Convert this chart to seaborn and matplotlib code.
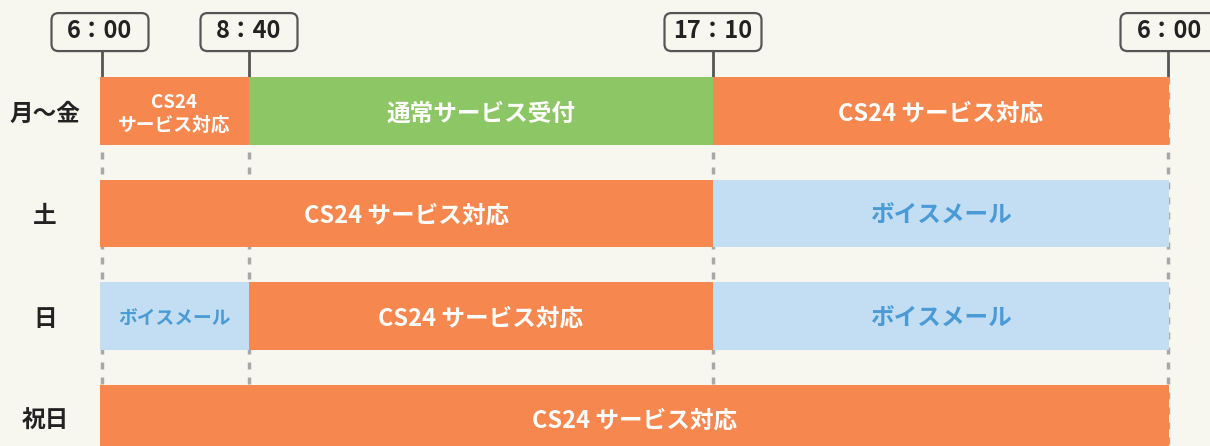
import numpy as np
import pandas as pd
import seaborn as sns
import matplotlib.pyplot as plt
from matplotlib.patches import FancyBboxPatch
from matplotlib.transforms import ScaledTranslation

# boundaries (hours from midnight, next-day 6:00 = 30)
tick_hours = [6.0, 8 + 40 / 60, 17 + 10 / 60, 30.0]
tick_labels = ["6：00", "8：40", "17：10", "6：00"]
# schematic (non-linear) placement of each boundary along the timeline
tick_pos = [0, 149, 613, 1069]

days = ["月〜金", "土", "日", "祝日"]

seg_day = ["月〜金", "月〜金", "月〜金", "土", "土", "日", "日", "日", "祝日"]
seg_start = [6.0, 8 + 40 / 60, 17 + 10 / 60, 6.0, 17 + 10 / 60,
             6.0, 8 + 40 / 60, 17 + 10 / 60, 6.0]
seg_end = [8 + 40 / 60, 17 + 10 / 60, 30.0, 17 + 10 / 60, 30.0,
           8 + 40 / 60, 17 + 10 / 60, 30.0, 30.0]
seg_kind = ["cs24", "normal", "cs24", "cs24", "voice",
            "voice", "cs24", "voice", "cs24"]
seg_label = ["CS24\nサービス対応", "通常サービス受付", "CS24 サービス対応",
             "CS24 サービス対応", "ボイスメール",
             "ボイスメール", "CS24 サービス対応", "ボイスメール",
             "CS24 サービス対応"]

BG = "#f8f7ef"
fill = {"cs24": "#f5874f", "normal": "#8cc665", "voice": "#c3def2"}
txt = {"cs24": "white", "normal": "white", "voice": "#4a9ad6"}


def forward(x):
    return np.interp(x, tick_hours, tick_pos)


def inverse(x):
    return np.interp(x, tick_pos, tick_hours)


def main():
    df = pd.DataFrame({"day": seg_day, "start": seg_start, "end": seg_end,
                       "kind": seg_kind, "label": seg_label})
    df["row"] = df["day"].map({d: i for i, d in enumerate(days)})

    sns.set_theme(style="white")
    plt.rcParams["font.family"] = ["Noto Sans CJK JP", "DejaVu Sans"]

    fig = plt.figure(figsize=(12.1, 4.46), dpi=100, facecolor=BG)
    ax = fig.add_axes([100 / 1210, 0, 1069 / 1210, 1])
    ax.set_facecolor(BG)
    ax.set_xscale("function", functions=(forward, inverse))
    ax.set_xlim(tick_hours[0], tick_hours[-1])

    pitch = 102.5  # px per row
    ax.set_ylim((446 - 111) / pitch, -111 / pitch)
    bar_h = 68 / pitch

    # guides (drawn behind the bars)
    box_bottom = -0.585
    guide_x = [h + 0.04 if i == 0 else (h - 0.02 if i == 3 else h)
               for i, h in enumerate(tick_hours)]
    ax.vlines(guide_x, -bar_h / 2, 3.5, color="#a8a8a8", lw=2.5,
              linestyle=(0, (7 / 2.5 * 0.72, 8 / 2.5 * 0.72)), zorder=1,
              clip_on=False)
    ax.vlines(guide_x, box_bottom, -bar_h / 2, color="#555555", lw=2,
              zorder=1, clip_on=False)

    ax.barh(df["row"], df["end"] - df["start"], left=df["start"],
            height=bar_h, color=[fill[k] for k in df["kind"]],
            linewidth=0, zorder=2)

    for _, r in df.iterrows():
        mid = inverse((forward(r["start"]) + forward(r["end"])) / 2)
        narrow = (forward(r["end"]) - forward(r["start"])) < 200
        ax.text(mid, r["row"] + 0.025, r["label"], ha="center", va="center",
                color=txt[r["kind"]], fontweight="bold",
                fontsize=13.5 if narrow else 17, linespacing=1.25, zorder=3)

    # time boxes
    for h, lab in zip(tick_hours, tick_labels):
        tr = fig.dpi_scale_trans + ScaledTranslation(h, -0.77, ax.transData)
        box = FancyBboxPatch((-0.485, -0.19), 0.97, 0.38,
                             boxstyle="round,pad=0,rounding_size=0.07",
                             fc=BG, ec="#555555", lw=1.6, transform=tr,
                             clip_on=False, zorder=4)
        ax.add_patch(box)
        ax.text(0, 0.01, lab, transform=tr, ha="center", va="center",
                fontsize=17, fontweight="bold", color="#222222",
                clip_on=False, zorder=5)

    ax.set_yticks(range(len(days)))
    ax.set_yticklabels(days, fontsize=17, fontweight="bold", color="#222222")
    ax.tick_params(axis="y", length=0, pad=39.6)
    for t in ax.get_yticklabels():
        t.set_ha("center")
    ax.set_xticks([])
    ax.xaxis.set_minor_locator(plt.NullLocator())
    sns.despine(ax=ax, left=True, bottom=True)

    fig.savefig("out.png", dpi=100, facecolor=BG)


if __name__ == "__main__":
    main()
